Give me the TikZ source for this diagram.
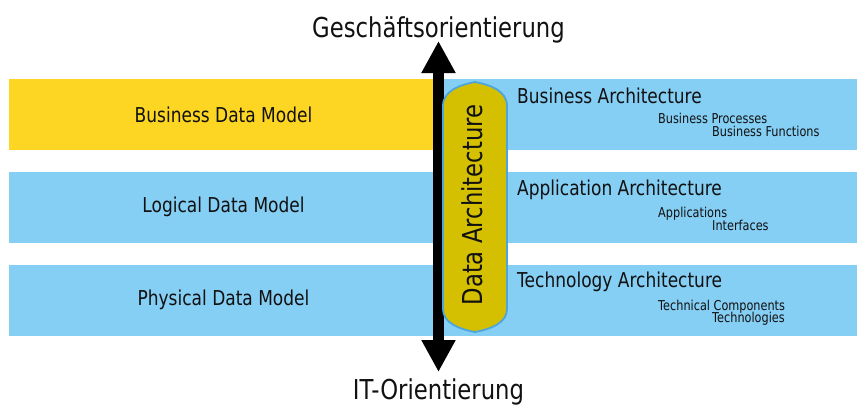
\documentclass[tikz,border=0pt]{standalone}
\usepackage{fontspec}
\setmainfont{DejaVu Sans}[FakeStretch=0.83]
\usetikzlibrary{arrows.meta}
\definecolor{bandyellow}{RGB}{253,213,35}
\definecolor{bandblue}{RGB}{133,206,244}
\definecolor{pillfill}{RGB}{212,192,0}
\definecolor{pillborder}{RGB}{76,166,220}
\definecolor{txt}{RGB}{17,17,17}
\tikzset{
  leftband/.style={inner sep=0pt, minimum width=429pt, minimum height=71pt, text=txt, font=\fontsize{20.5}{24}\selectfont},
  big/.style={inner sep=0pt, text=txt, font=\fontsize{27.4}{32}\selectfont},
  archhead/.style={inner sep=0pt, anchor=base west, text=txt, font=\fontsize{20.5}{24}\selectfont},
  archsub/.style={inner sep=0pt, anchor=base west, text=txt, font=\fontsize{13.6}{16}\selectfont},
  pillshape/.style={fill=pillfill, draw=pillborder, line width=1.8pt},
  axis/.style={line width=11pt, {Triangle[width=32pt,length=32pt]}-{Triangle[width=32pt,length=32pt]}},
}
\begin{document}
\begin{tikzpicture}[x=1pt,y=-1pt]
\useasboundingbox (0,0) rectangle (857,405);
% bands, left parts
\node[leftband, fill=bandyellow] (bdm) at (223.5,114.5) {Business Data Model};
\node[leftband, fill=bandblue] (ldm) at (223.5,207) {Logical Data Model};
\node[leftband, fill=bandblue] (pdm) at (223.5,300) {Physical Data Model};
% bands, right parts
\fill[bandblue] (438,79) rectangle (857,150);
\fill[bandblue] (438,171.5) rectangle (857,242.5);
\fill[bandblue] (438,264.5) rectangle (857,335.5);
% axis labels
\node[big, anchor=base] (geo) at (438.5,37.5) {Geschäftsorientierung};
\node[big, anchor=base] (ito) at (438.5,399) {IT-Orientierung};
% axis arrow
\coordinate (atop) at (438.5,41);
\coordinate (abot) at (438.5,372);
\draw[axis] (atop) -- (abot);
% pill
\draw[pillshape] (443,106) .. controls (443,91) and (459,85) .. (475,82)
  .. controls (491,85) and (507,91) .. (507,106) -- (507,309)
  .. controls (507,323) and (491,329) .. (475,332)
  .. controls (459,329) and (443,323) .. (443,309) -- cycle;
\node[big, rotate=90, anchor=base] (da) at (482.5,205) {Data Architecture};
% right texts
\node[archhead] (ba) at (517,103) {Business Architecture};
\node[archsub] (bp) at (658,123) {Business Processes};
\node[archsub] (bf) at (712,136) {Business Functions};
\node[archhead] (aa) at (517,195) {Application Architecture};
\node[archsub] (ap) at (658,217) {Applications};
\node[archsub] (ai) at (712,230) {Interfaces};
\node[archhead] (ta) at (517,287) {Technology Architecture};
\node[archsub] (tc) at (658,310) {Technical Components};
\node[archsub] (tt) at (712,322.5) {Technologies};
\end{tikzpicture}
\end{document}
